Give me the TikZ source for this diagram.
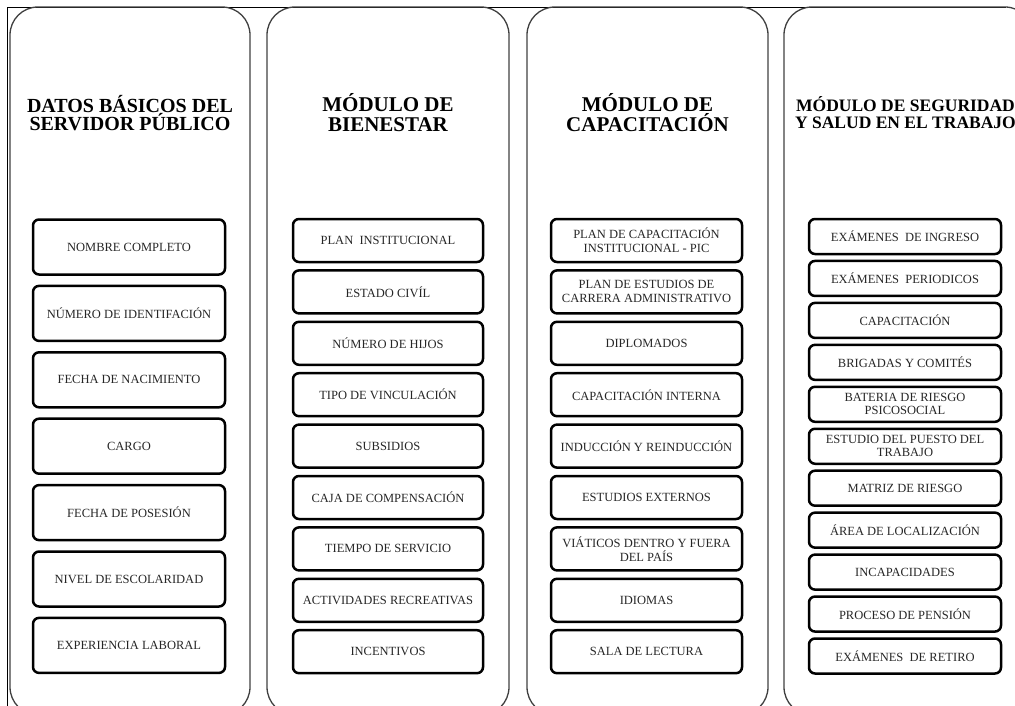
\documentclass[tikz,border=0pt]{standalone}
\usepackage{fontspec}
\setmainfont{Liberation Serif}
\begin{document}
\begin{tikzpicture}[x=1pt, y=-1pt,
  panel/.style={draw=black!75, line width=1.3pt, rounded corners=28pt, minimum height=708pt, inner sep=0pt},
  ttl/.style={font=\bfseries\fontsize{21}{20}\selectfont, align=center, inner sep=0pt},
  b/.style={draw, line width=2.5pt, rounded corners=6pt, align=center, text=black!85, inner sep=0pt,
    font=\fontsize{12.5}{14}\selectfont}]
\useasboundingbox (0,0) rectangle (1015,706);
\clip (0,0) rectangle (1015,706);
\draw[line width=1.4pt] (7.5,706) -- (7.5,7.5) -- (1006,7.5);
% columns
\node[panel, minimum width=240pt] (datos) at (130,361) {};
\node[panel, minimum width=242pt] (bien) at (388,361) {};
\node[panel, minimum width=241pt] (capa) at (647.5,361) {};
\node[panel, minimum width=249pt] (sst) at (908.5,361) {};
% titles
\node[ttl, font=\bfseries\fontsize{20}{18.5}\selectfont] (datosT) at (130,113) {DATOS BÁSICOS DEL\\SERVIDOR PÚBLICO};
\node[ttl] (bienT) at (388,113) {MÓDULO DE\\BIENESTAR};
\node[ttl] (capaT) at (647.5,113) {MÓDULO DE\\CAPACITACIÓN};
\node[ttl, font=\bfseries\fontsize{17.5}{17}\selectfont] (sstT) at (905.5,113) {MÓDULO DE SEGURIDAD\\Y SALUD EN EL TRABAJO};
% datos basicos
\tikzset{every node/.append style={minimum width=192pt, minimum height=55pt}}
\node[b] (nom) at (129,247) {NOMBRE COMPLETO};
\node[b] (ident) at (129,313.4) {NÚMERO DE IDENTIFACIÓN};
\node[b] (fnac) at (129,379.8) {FECHA DE NACIMIENTO};
\node[b] (cargo) at (129,446.2) {CARGO};
\node[b] (fpos) at (129,512.6) {FECHA DE POSESIÓN};
\node[b] (nivel) at (129,579) {NIVEL DE ESCOLARIDAD};
\node[b] (exper) at (129,645.4) {EXPERIENCIA LABORAL};
% bienestar
\tikzset{every node/.append style={minimum width=190pt, minimum height=43pt}}
\node[b] (plan) at (388,240.5) {PLAN\ \ INSTITUCIONAL};
\node[b] (civil) at (388,291.9) {ESTADO CIVÍL};
\node[b] (hijos) at (388,343.3) {NÚMERO DE HIJOS};
\node[b] (vinc) at (388,394.7) {TIPO DE VINCULACIÓN};
\node[b] (subs) at (388,446.1) {SUBSIDIOS};
\node[b] (caja) at (388,497.5) {CAJA DE COMPENSACIÓN};
\node[b] (tiempo) at (388,548.9) {TIEMPO DE SERVICIO};
\node[b] (activ) at (388,600.3) {ACTIVIDADES RECREATIVAS};
\node[b] (incent) at (388,651.7) {INCENTIVOS};
% capacitacion
\tikzset{every node/.append style={minimum width=191pt}}
\node[b] (pic) at (646.5,240.5) {PLAN DE CAPACITACIÓN\\INSTITUCIONAL - PIC};
\node[b] (carrera) at (646.5,291.9) {PLAN DE ESTUDIOS DE\\CARRERA ADMINISTRATIVO};
\node[b] (diplo) at (646.5,343.3) {DIPLOMADOS};
\node[b] (capint) at (646.5,394.7) {CAPACITACIÓN INTERNA};
\node[b] (induc) at (646.5,446.1) {INDUCCIÓN Y REINDUCCIÓN};
\node[b] (estext) at (646.5,497.5) {ESTUDIOS EXTERNOS};
\node[b] (viat) at (646.5,548.9) {VIÁTICOS DENTRO Y FUERA\\DEL PAÍS};
\node[b] (idiom) at (646.5,600.3) {IDIOMAS};
\node[b] (sala) at (646.5,651.7) {SALA DE LECTURA};
% seguridad y salud
\tikzset{every node/.append style={minimum width=192pt, minimum height=35pt}}
\node[b] (ingreso) at (905,236.5) {EXÁMENES\ \ DE INGRESO};
\node[b] (period) at (905,278.45) {EXÁMENES\ \ PERIODICOS};
\node[b] (capsst) at (905,320.4) {CAPACITACIÓN};
\node[b] (brig) at (905,362.35) {BRIGADAS Y COMITÉS};
\node[b, font=\fontsize{12.5}{13}\selectfont] (bater) at (905,404.3) {BATERIA DE RIESGO\\PSICOSOCIAL};
\node[b, font=\fontsize{12.5}{13}\selectfont] (puesto) at (905,446.25) {ESTUDIO DEL PUESTO DEL\\TRABAJO};
\node[b] (matriz) at (905,488.2) {MATRIZ DE RIESGO};
\node[b] (area) at (905,530.15) {ÁREA DE LOCALIZACIÓN};
\node[b] (incap) at (905,572.1) {INCAPACIDADES};
\node[b] (pension) at (905,614.05) {PROCESO DE PENSIÓN};
\node[b] (retiro) at (905,656) {EXÁMENES\ \ DE RETIRO};
\end{tikzpicture}
\end{document}
